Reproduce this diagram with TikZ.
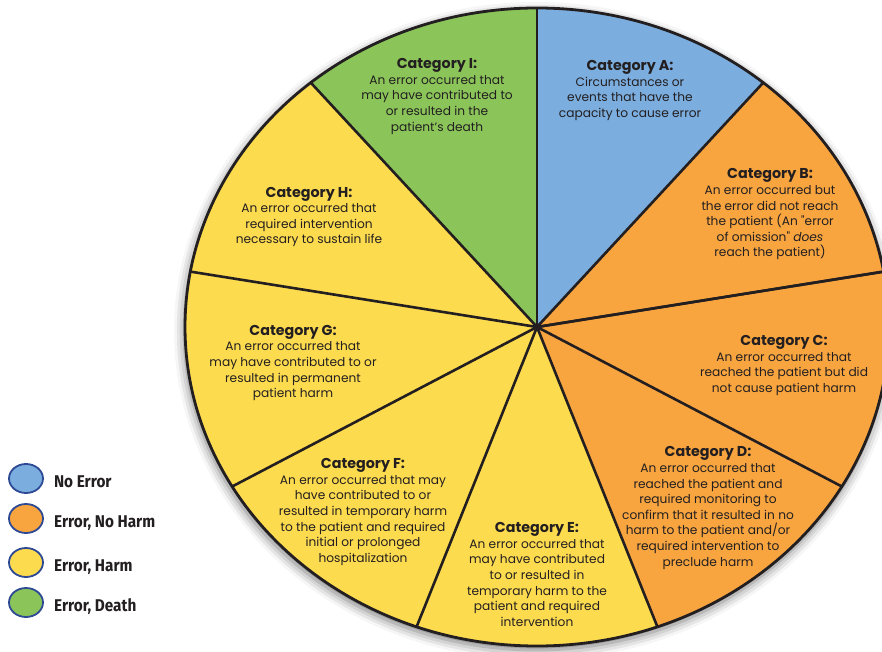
\documentclass[tikz,border=0pt]{standalone}
\usepackage{fontspec}
\setmainfont{Poppins}
\newfontfamily\keyfont[FakeStretch=0.9]{Fira Sans}
\usepackage{tikz}
\usetikzlibrary{positioning,shapes.geometric,shadows.blur}
\usepackage{xcolor}
\definecolor{noerror}{HTML}{7BADDE}
\definecolor{noharm}{HTML}{F8A540}
\definecolor{harm}{HTML}{FDDB4F}
\definecolor{death}{HTML}{8BC55A}
\definecolor{rim}{HTML}{2E4A94}
\definecolor{ink}{HTML}{231F20}
\newcommand{\cathead}[1]{{\fontsize{14.3}{15.6}\selectfont\bfseries Category #1:}}

\begin{document}
\begin{tikzpicture}[x=1pt,y=1pt,
		catlabel/.style={align=center,text=ink,inner sep=0pt,font=\fontsize{12.2}{15.6}\selectfont},
		keydot/.style={ellipse,draw=rim,line width=1.8pt,minimum width=34pt,minimum height=29pt,inner sep=0pt},
		keytext/.style={right=10pt of #1,anchor=west,inner sep=0pt,text height=12pt,text depth=0pt,
			font=\keyfont\bfseries\fontsize{17}{18}\selectfont,text=ink}]
		\useasboundingbox (0,0) rectangle (882,651);
		\clip (0,0) rectangle (882,651);
		%
		\begin{scope}[shift={(537,324)},xscale=1.1034]
			\fill[white,blur shadow={shadow xshift=-1pt,shadow yshift=-4pt,shadow blur radius=10pt,shadow opacity=55}] (0,0) circle (319);
			%
			\fill[noerror] (0,0) -- (50:319) arc[start angle=50,end angle=90,radius=319] -- cycle;
			\fill[noharm] (0,0) -- (10:319) arc[start angle=10,end angle=50,radius=319] -- cycle;
			\fill[noharm] (0,0) -- (-30:319) arc[start angle=-30,end angle=10,radius=319] -- cycle;
			\fill[noharm] (0,0) -- (-70:319) arc[start angle=-70,end angle=-30,radius=319] -- cycle;
			\fill[harm] (0,0) -- (-110:319) arc[start angle=-110,end angle=-70,radius=319] -- cycle;
			\fill[harm] (0,0) -- (-150:319) arc[start angle=-150,end angle=-110,radius=319] -- cycle;
			\fill[harm] (0,0) -- (170:319) arc[start angle=170,end angle=210,radius=319] -- cycle;
			\fill[harm] (0,0) -- (130:319) arc[start angle=130,end angle=170,radius=319] -- cycle;
			\fill[death] (0,0) -- (90:319) arc[start angle=90,end angle=130,radius=319] -- cycle;
			%
			\foreach \a in {10,50,...,370}
				\draw[line width=2.6pt,color=ink] (0,0) -- (\a:319);
			\draw[line width=2.8pt,color=ink] (0,0) circle (319);
		\end{scope}
		%
		\node[catlabel] (catA) at (630,560.5) {\cathead{A}\\Circumstances or\\events that have the\\capacity to cause error};
		\node[catlabel] (catB) at (770,436.5) {\cathead{B}\\An error occurred but\\the error did not reach\\the patient (An \textquotedbl error\\of omission\textquotedbl{} \emph{does}\\reach the patient)};
		\node[catlabel] (catC) at (784,285.5) {\cathead{C}\\An error occurred that\\reached the patient but did\\not cause patient harm};
		\node[catlabel] (catD) at (708,143) {\cathead{D}\\An error occurred that\\reached the patient and\\required monitoring to\\confirm that it resulted in no\\harm to the patient and/or\\required intervention to\\preclude harm};
		\node[catlabel] (catE) at (537,76.5) {\cathead{E}\\An error occurred that\\may have contributed\\to or resulted in\\temporary harm to the\\patient and required\\intervention};
		\node[catlabel] (catF) at (363,139) {\cathead{F}\\An error occurred that may\\have contributed to or\\resulted in temporary harm\\to the patient and required\\initial or prolonged\\hospitalization};
		\node[catlabel] (catG) at (293,288) {\cathead{G}\\An error occurred that\\may have contributed to or\\resulted in permanent\\patient harm};
		\node[catlabel] (catH) at (309,434) {\cathead{H}\\An error occurred that\\required intervention\\necessary to sustain life};
		\node[catlabel] (catI) at (437,554.5) {\cathead{I}\\An error occurred that\\may have contributed to\\or resulted in the\\patient’s death};
		%
		\node[keydot,fill=noerror] (keyA) at (26,172.5) {};
		\node[keydot,fill=noharm] (keyB) at (26,132.5) {};
		\node[keydot,fill=harm] (keyC) at (26,88.5) {};
		\node[keydot,fill=death] (keyD) at (26,48.5) {};
		\node[keytext=keyA,yshift=-3pt] (txtA) {No Error};
		\node[keytext=keyB,yshift=-3pt] (txtB) {Error, No Harm};
		\node[keytext=keyC,yshift=-3pt] (txtC) {Error, Harm};
		\node[keytext=keyD,yshift=-3pt] (txtD) {Error, Death};
	\end{tikzpicture}
\end{document}
